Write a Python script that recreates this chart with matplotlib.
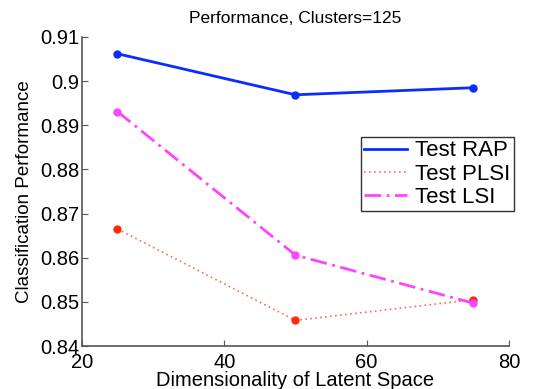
import matplotlib
matplotlib.use("Agg")
import matplotlib.pyplot as plt

dims = [25, 50, 75]
rap = [0.9062, 0.8969, 0.8985]
plsi = [0.8665, 0.8458, 0.8505]
lsi = [0.8931, 0.8606, 0.8497]

plt.rcParams['font.family'] = ['Liberation Sans', 'DejaVu Sans']

fig = plt.figure(figsize=(5.42, 3.89), dpi=100)
ax = fig.add_axes([0.151, 0.1105, 0.788, 0.7945])

ax.plot(dims, rap, color='#0a2cff', lw=2, label='Test RAP')
ax.plot(dims, plsi, color='#ff6a50', lw=1.2, ls=(0, (1, 2)), label='Test PLSI')
ax.plot(dims, lsi, color='#ff44ff', lw=2, ls=(0, (6, 2, 1, 2)), label='Test LSI')
ax.plot(dims, rap, 'o', color='#0a2cff', ms=5, zorder=3)
ax.plot(dims, plsi, 'o', color='#ff2a10', ms=5, zorder=3)
ax.plot(dims, lsi, 'o', color='#ff44ff', ms=5, zorder=3)

ax.set_xlim(20, 80)
ax.set_ylim(0.84, 0.91)
ax.set_xticks([20, 40, 60, 80])
ax.set_xticklabels(['20', '40', '60', '80'])
ax.set_yticks([0.84, 0.85, 0.86, 0.87, 0.88, 0.89, 0.9, 0.91])
ax.set_yticklabels(['0.84', '0.85', '0.86', '0.87', '0.88', '0.89', '0.9', '0.91'])
ax.tick_params(direction='in', labelsize=14.5, length=4, color='#555555', pad=2)
ax.tick_params(axis='x', pad=5)
for s in ['top', 'right']:
    ax.spines[s].set_visible(False)
for s in ['left', 'bottom']:
    ax.spines[s].set_color('#555555')
    ax.spines[s].set_linewidth(1.2)

ax.set_title('Performance, Clusters=125', fontsize=12.5, pad=10)
ax.set_xlabel('Dimensionality of Latent Space', fontsize=14.5, labelpad=-1)
ax.set_ylabel('Classification Performance', fontsize=13.5, labelpad=5)

leg = ax.legend(loc='upper right', bbox_to_anchor=(1.012, 0.676), fontsize=16,
                frameon=True, fancybox=False, edgecolor='black',
                handlelength=1.9, handletextpad=0.4, borderpad=0.15,
                labelspacing=0.1, borderaxespad=0)
leg.get_frame().set_linewidth(1.0)

fig.savefig('out.png', dpi=100)
